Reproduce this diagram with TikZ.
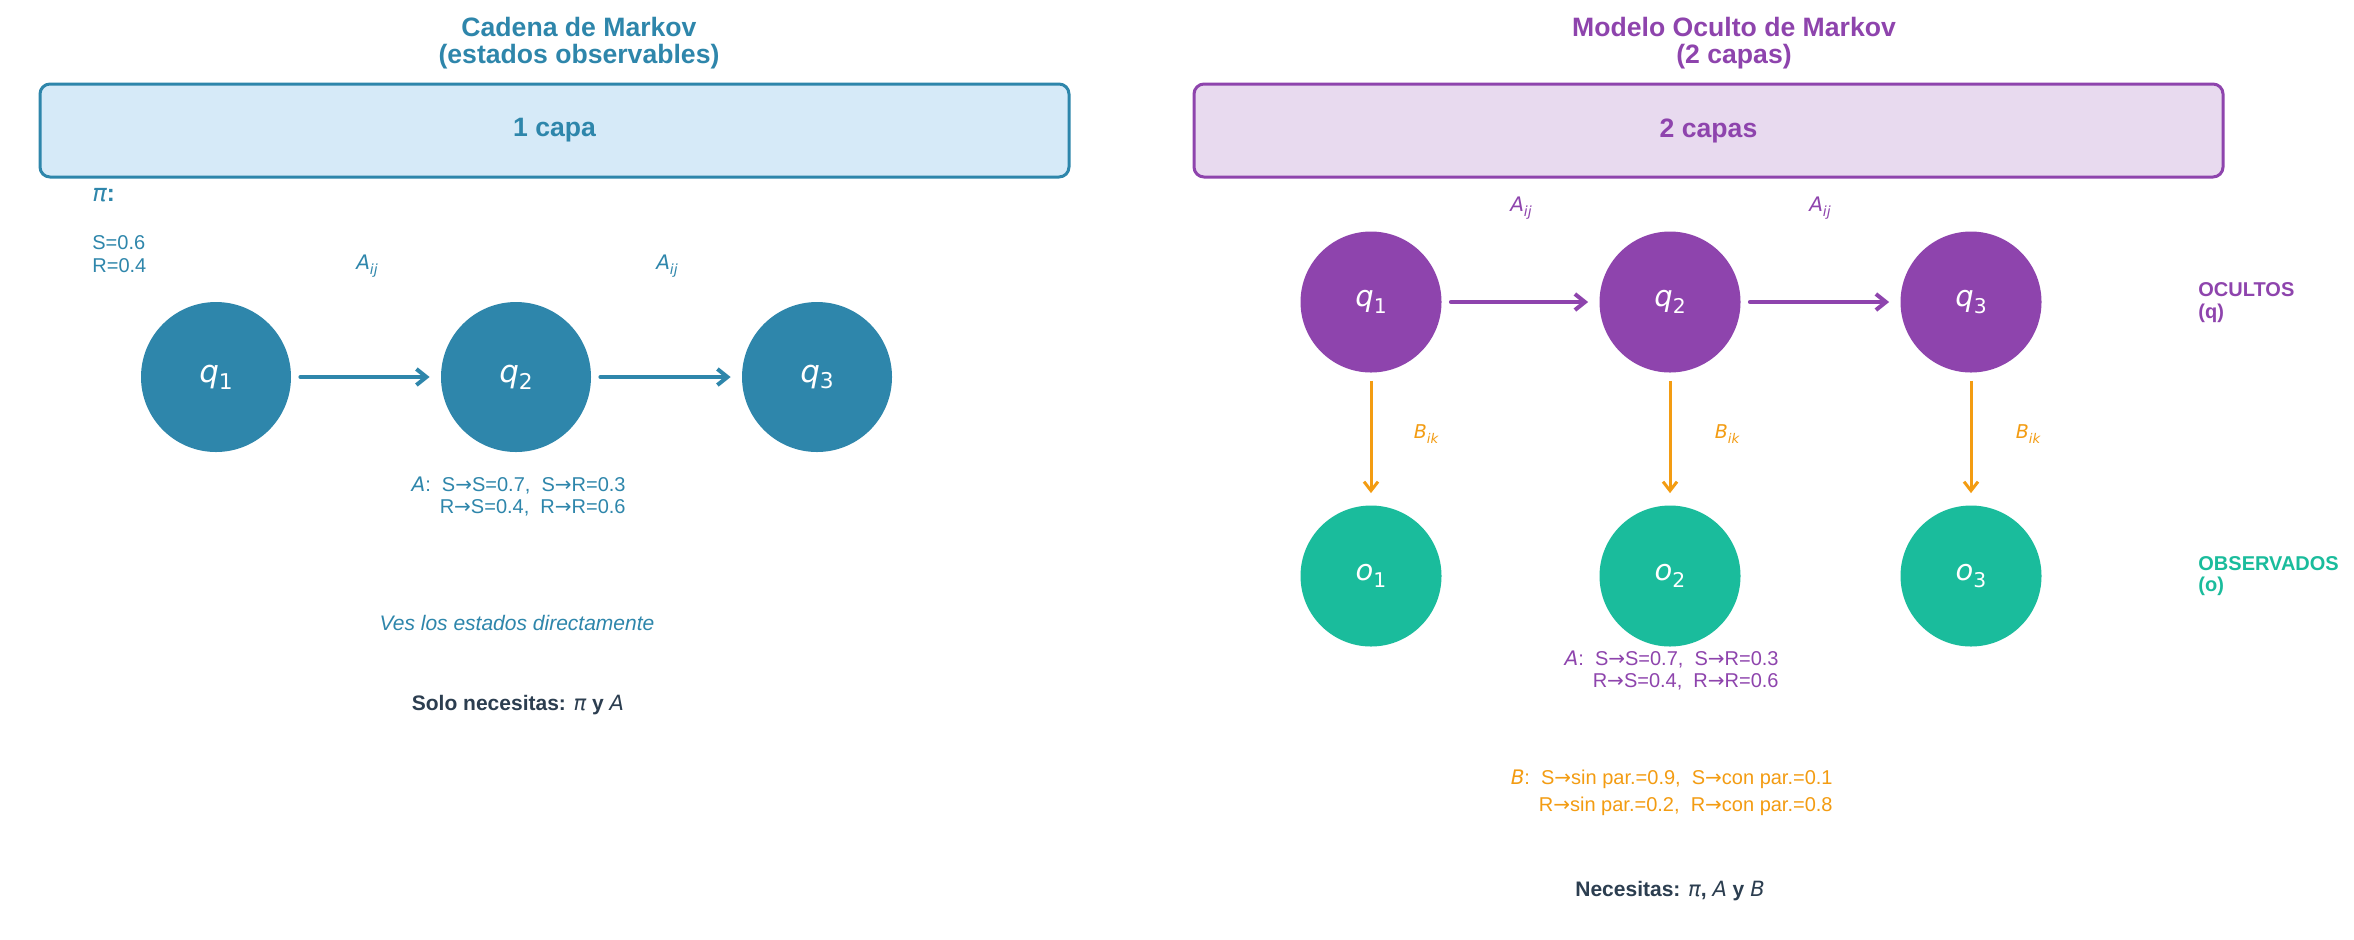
\documentclass[tikz,border=0pt]{standalone}
\usepackage{fontspec}
\usepackage{graphicx}
\setmainfont{Liberation Sans}
\newfontfamily\dv{DejaVu Sans}
\usetikzlibrary{arrows.meta}
\definecolor{cblue}{HTML}{2E86AB}
\definecolor{cpurple}{HTML}{8E44AD}
\definecolor{cgreen}{HTML}{1ABC9C}
\definecolor{corange}{HTML}{F39C12}
\definecolor{cdark}{HTML}{2C3E50}
\definecolor{lblue}{HTML}{D6EAF8}
\definecolor{lpurple}{HTML}{E8DAEF}
\newcommand\mi[1]{{\dv\mdseries\itshape #1}}
\newcommand\msub[2]{{\dv\itshape #1}\raisebox{-0.22em}{\dv\scalebox{0.7}{#2}}}
\newcommand\rarr{{\dv →}}
\tikzset{
  ttl/.style={font=\fontsize{13.3}{16}\selectfont\bfseries, inner sep=0},
  capbox/.style={rounded corners=5pt, line width=1.5pt, minimum width=514.5pt, minimum height=46.5pt, font=\fontsize{13.3}{16}\selectfont\bfseries, inner sep=0},
  txt/.style={font=\fontsize{10}{12}\selectfont, inner sep=0},
  lbl/.style={font=\fontsize{10}{12}\selectfont, inner sep=0},
  bigst/.style={circle, minimum size=75pt, inner sep=0, text=white, font=\fontsize{15.5}{18}\selectfont},
  smst/.style={circle, minimum size=70.5pt, inner sep=0, text=white, font=\fontsize{14.5}{18}\selectfont},
  harrow/.style={line width=2pt, line cap=round, -{Straight Barb[length=5pt,width=8pt,line width=2pt]}, shorten <=4.5pt, shorten >=5.5pt},
  varrow/.style={draw=corange, line width=1.5pt, -{Straight Barb[length=4.5pt,width=7pt,line width=1.5pt]}, shorten <=4pt, shorten >=6pt},
}
\begin{document}
\begin{tikzpicture}[x=0.5pt,y=-0.5pt]
\useasboundingbox[fill=white] (0,0) rectangle (2354,939);

% ---------- Left panel ----------
\node[ttl, text=cblue] (t1a) at (579,27) {Cadena de Markov};
\node[ttl, text=cblue] (t1b) at (579,57) {(estados observables)};
\node[capbox, draw=cblue, fill=lblue, text=cblue] (box1) at (554.5,130.5) {1 capa};

\node[anchor=west, inner sep=0, text=cblue, font=\fontsize{12}{14}\selectfont\bfseries] (pi) at (92,195) {\mi{π}:};
\node[txt, anchor=west, text=cblue] (s06) at (92,243) {S=0.6};
\node[txt, anchor=west, text=cblue] (r04) at (92,266) {R=0.4};

\node[bigst, fill=cblue] (lq1) at (216,377) {\msub{q}{1}};
\node[bigst, fill=cblue] (lq2) at (516,377) {\msub{q}{2}};
\node[bigst, fill=cblue] (lq3) at (817,377) {\msub{q}{3}};
\draw[harrow, draw=cblue] (lq1) -- (lq2);
\draw[harrow, draw=cblue] (lq2) -- (lq3);
\node[lbl, text=cblue] (la1) at (367,266) {\msub{A}{\itshape ij}};
\node[lbl, text=cblue] (la2) at (667,266) {\msub{A}{\itshape ij}};

\node[txt, anchor=east, text=cblue] (lA1) at (626,485) {\mi{A}:\ \ S\rarr S=0.7,\ \ S\rarr R=0.3};
\node[txt, anchor=east, text=cblue] (lA2) at (626,508) {R\rarr S=0.4,\ \ R\rarr R=0.6};

\node[txt, text=cblue, font=\fontsize{10.5}{12}\selectfont\itshape] (ves) at (517,623) {Ves los estados directamente};
\node[txt, text=cdark, font=\fontsize{10.5}{12}\selectfont\bfseries] (solo) at (518,705) {Solo necesitas: \mi{π} y \mi{A}};

% ---------- Right panel ----------
\node[ttl, text=cpurple] (t2a) at (1734,27) {Modelo Oculto de Markov};
\node[ttl, text=cpurple] (t2b) at (1734,57) {(2 capas)};
\node[capbox, draw=cpurple, fill=lpurple, text=cpurple] (box2) at (1708.5,130.5) {2 capas};

\node[smst, fill=cpurple] (q1) at (1371,302) {\msub{q}{1}};
\node[smst, fill=cpurple] (q2) at (1670,302) {\msub{q}{2}};
\node[smst, fill=cpurple] (q3) at (1971,302) {\msub{q}{3}};
\node[smst, fill=cgreen] (o1) at (1371,576) {\msub{o}{1}};
\node[smst, fill=cgreen] (o2) at (1670,576) {\msub{o}{2}};
\node[smst, fill=cgreen] (o3) at (1971,576) {\msub{o}{3}};

\draw[harrow, draw=cpurple] (q1) -- (q2);
\draw[harrow, draw=cpurple] (q2) -- (q3);
\draw[varrow] (q1) -- (o1);
\draw[varrow] (q2) -- (o2);
\draw[varrow] (q3) -- (o3);

\node[lbl, text=cpurple] (ra1) at (1521,208) {\msub{A}{\itshape ij}};
\node[lbl, text=cpurple] (ra2) at (1820,208) {\msub{A}{\itshape ij}};
\node[lbl, text=corange, font=\fontsize{9.5}{12}\selectfont] (b1) at (1426,434) {\msub{B}{\itshape ik}};
\node[lbl, text=corange, font=\fontsize{9.5}{12}\selectfont] (b2) at (1727,434) {\msub{B}{\itshape ik}};
\node[lbl, text=corange, font=\fontsize{9.5}{12}\selectfont] (b3) at (2028,434) {\msub{B}{\itshape ik}};

\node[txt, anchor=west, text=cpurple, font=\fontsize{10}{12}\selectfont\bfseries] (oc1) at (2198,290) {OCULTOS};
\node[txt, anchor=west, text=cpurple, font=\fontsize{10}{12}\selectfont\bfseries] (oc2) at (2198,313) {(q)};
\node[txt, anchor=west, text=cgreen, font=\fontsize{10}{12}\selectfont\bfseries] (ob1) at (2198,564) {OBSERVADOS};
\node[txt, anchor=west, text=cgreen, font=\fontsize{10}{12}\selectfont\bfseries] (ob2) at (2198,586) {(o)};

\node[txt, anchor=east, text=cpurple] (rA1) at (1779,659) {\mi{A}:\ \ S\rarr S=0.7,\ \ S\rarr R=0.3};
\node[txt, anchor=east, text=cpurple] (rA2) at (1779,682) {R\rarr S=0.4,\ \ R\rarr R=0.6};
\node[txt, anchor=east, text=corange] (rB1) at (1833,779) {\mi{B}:\ \ S\rarr sin par.=0.9,\ \ S\rarr con par.=0.1};
\node[txt, anchor=east, text=corange] (rB2) at (1833,806) {R\rarr sin par.=0.2,\ \ R\rarr con par.=0.8};

\node[txt, text=cdark, font=\fontsize{10.5}{12}\selectfont\bfseries] (nec) at (1670,891) {Necesitas: \mi{π}, \mi{A} y \mi{B}};
\end{tikzpicture}
\end{document}
